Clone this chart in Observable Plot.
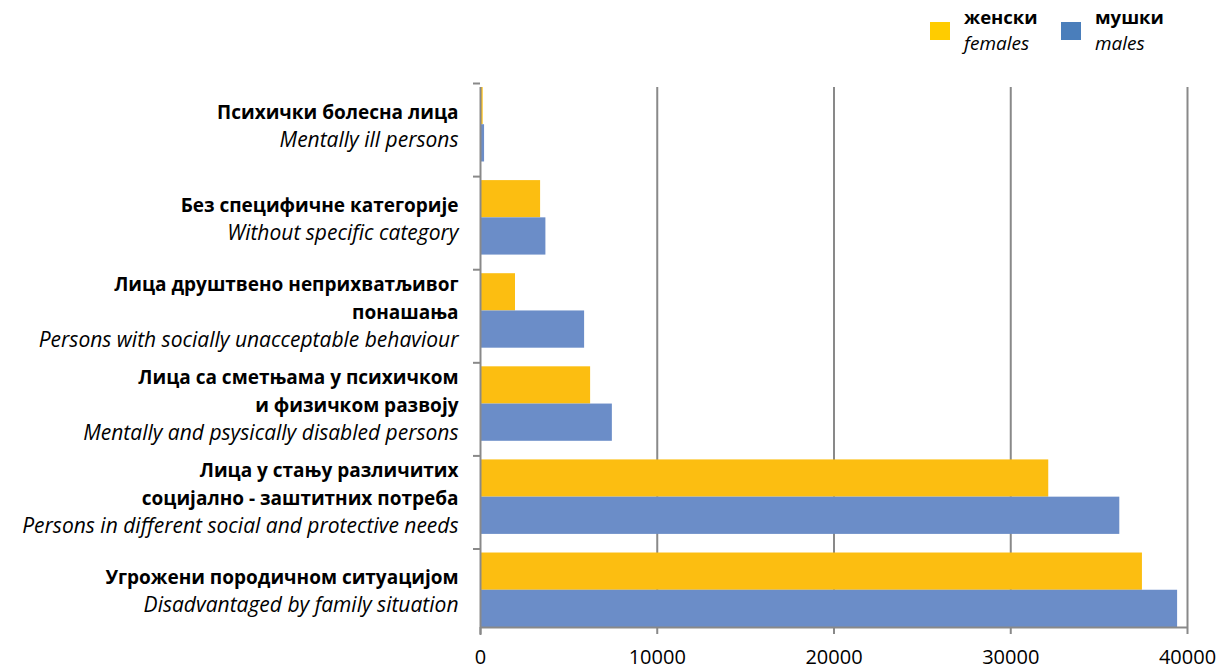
<!DOCTYPE html>
<html>
<head>
<meta charset="utf-8">
<script src="https://cdn.jsdelivr.net/npm/d3@7"></script>
<script src="https://cdn.jsdelivr.net/npm/@observablehq/plot@0.6"></script>
<style>
  body { margin: 0; background: #fff; font-family: "Open Sans", sans-serif; }
  #legend { position: relative; height: 62px; width: 1224px; }
  .item { position: absolute; top: 4px; display: flex; }
  .sw { width: 20px; height: 18px; margin-top: 18px; margin-right: 14px; }
  .lab { color: #000; }
  .lab b { display: block; font-size: 18.5px; line-height: 26px; }
  .lab i { display: block; font-size: 19px; line-height: 26px; }
</style>
</head>
<body>
<div id="legend"></div>
<div id="chart"></div>
<script>
// ---- data ----
const categoriesSr = [
  "Психички болесна лица",
  "Без специфичне категорије",
  "Лица друштвено неприхватљивог\nпонашања",
  "Лица са сметњама у психичком\nи физичком развоју",
  "Лица у стању различитих\nсоцијално - заштитних потреба",
  "Угрожени породичном ситуацијом"
];
const categoriesEn = [
  "Mentally ill persons",
  "Without specific category",
  "Persons with socially unacceptable behaviour",
  "Mentally and psysically disabled persons",
  "Persons in different social and protective needs",
  "Disadvantaged by family situation"
];
const females = [150, 3400, 1980, 6230, 32150, 37450];
const males = [230, 3700, 5890, 7460, 36170, 39440];
const seriesSr = ["женски", "мушки"];
const seriesEn = ["females", "males"];
const xTicks = [0, 10000, 20000, 30000, 40000];

// ---- styles ----
const barColors = ["#FCBE11", "#6B8DC8"];
const legendColors = ["#FFCC00", "#4A7EBB"];
const gray = "#898989";

// legend
const legend = document.getElementById("legend");
const legendLeft = [930, 1061];
seriesSr.forEach((s, i) => {
  const it = document.createElement("div");
  it.className = "item";
  it.style.left = legendLeft[i] + "px";
  it.innerHTML = `<div class="sw" style="background:${legendColors[i]}"></div><div class="lab"><b>${s}</b><i>${seriesEn[i]}</i></div>`;
  legend.appendChild(it);
});

const data = categoriesSr.map((sr, i) => {
  const n = sr.split("\n").length;
  return {
    en: categoriesEn[i],
    bold: sr + "\n",
    ital: "\n".repeat(n) + categoriesEn[i],
    f: females[i],
    m: males[i]
  };
});

const H = 608, mTop = 25, mBottom = 43, pad = 0.2;
const step = (H - mTop - mBottom) / (categoriesEn.length - pad);
const bw = step * (1 - pad);
const LINE = 28, BOLD = 19, ITAL = 21;

const chart = Plot.plot({
  width: 1224,
  height: H,
  marginTop: mTop,
  marginBottom: mBottom,
  marginLeft: 480,
  marginRight: 37,
  style: { fontFamily: "Open Sans", fontSize: "18px", color: "#000", background: "#fff" },
  x: { domain: [0, 40000] },
  y: { domain: categoriesEn, padding: pad, paddingOuter: 0, round: false },
  marks: [
    Plot.ruleX(xTicks.slice(1), { stroke: gray, strokeWidth: 2 }),
    Plot.barX(data, { x: "f", y: "en", fill: barColors[0], insetBottom: bw / 2 }),
    Plot.barX(data, { x: "m", y: "en", fill: barColors[1], insetTop: bw / 2 }),
    Plot.ruleX(xTicks.slice(0, 1), { stroke: gray, strokeWidth: 2, insetBottom: -8 }),
    Plot.ruleY(data.slice(-1), { y: "en", dy: bw / 2, stroke: gray, strokeWidth: 2 }),
    Plot.axisX({ ticks: xTicks, tickSize: 7, tickPadding: 15, stroke: gray, strokeWidth: 2,
      fontSize: 20, tickFormat: d3.format("d"), label: null }),
    Plot.axisY({ tickSize: 7, tickFormat: () => "", dy: -bw / 2 - 4, stroke: gray, strokeWidth: 2, label: null }),
    Plot.text(data, { frameAnchor: "left", y: "en", text: "bold", textAnchor: "end", dx: -22, dy: -1,
      lineAnchor: "middle", lineHeight: LINE / BOLD, fontWeight: "bold", fontSize: BOLD }),
    Plot.text(data, { frameAnchor: "left", y: "en", text: "ital", textAnchor: "end", dx: -22, dy: -1,
      lineAnchor: "middle", lineHeight: LINE / ITAL, fontStyle: "italic", fontSize: ITAL })
  ]
});
document.getElementById("chart").appendChild(chart);
</script>
</body>
</html>
